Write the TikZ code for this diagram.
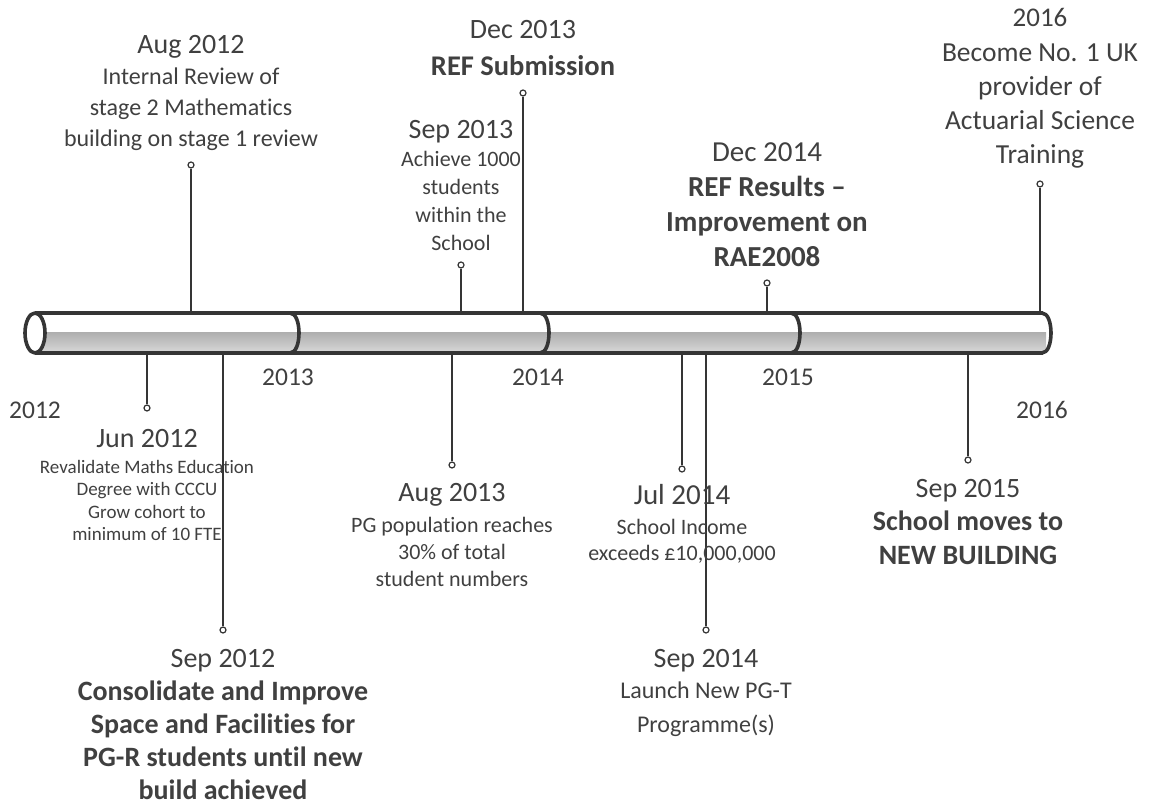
\documentclass[tikz,border=0pt]{standalone}
\usepackage{fontspec}
\setmainfont{Carlito}[Ligatures={TeX,NoCommon}]
\usepackage{xcolor}
\usepackage{tikz}
\usetikzlibrary{positioning}

\definecolor{inkgray}{HTML}{404040}
\definecolor{linegray}{HTML}{353535}
\newcommand\fsz[2]{\fontsize{#1}{#2}\selectfont}

\begin{document}
\begin{tikzpicture}[
    x=1pt, y=-1pt,
    date/.style={inner sep=0, text=inkgray, anchor=base, font=\fsz{28}{33}},
    desc/.style={inner sep=0, text=inkgray, anchor=north, align=center},
    year/.style={inner sep=0, text=inkgray, anchor=base, font=\fsz{25.5}{30}},
    pin/.style={circle, draw=linegray, fill=white, line width=1.2pt, inner sep=0, minimum size=6pt},
    stem/.style={draw=linegray, line width=1.8pt},
    tube/.style={draw=linegray, line width=3.6pt, line join=round}
]
\useasboundingbox (0,0) rectangle (1152,810);

% points on the tube where the stems start
\coordinate (jun12b) at (147,355);
\coordinate (aug12b) at (191,311);
\coordinate (sep12b) at (223,355);
\coordinate (aug13b) at (452,355);
\coordinate (sep13b) at (461,311);
\coordinate (dec13b) at (523,311);
\coordinate (jul14b) at (682,355);
\coordinate (sep14b) at (706,355);
\coordinate (dec14b) at (767,311);
\coordinate (sep15b) at (968,355);
\coordinate (y16b) at (1040,311);

% pins
\node[pin] (jun12p) at (147,408) {};
\node[pin] (aug12p) at (191,165) {};
\node[pin] (sep12p) at (223,630) {};
\node[pin] (aug13p) at (452,465) {};
\node[pin] (sep13p) at (461,265) {};
\node[pin] (dec13p) at (523,93) {};
\node[pin] (jul14p) at (682,469) {};
\node[pin] (sep14p) at (706,630) {};
\node[pin] (dec14p) at (767,283) {};
\node[pin] (sep15p) at (968,460) {};
\node[pin] (y16p) at (1040,184) {};

\foreach \ev in {jun12,aug12,sep12,aug13,sep13,dec13,jul14,sep14,dec14,sep15,y16}
    \draw[stem] (\ev b) -- (\ev p);

% the tube
\fill[white] (35,313) rectangle (1046,333);
\shade[top color=gray!62, bottom color=gray!30] (35,333) rectangle (1046,353);
\draw[tube] (35,313) -- (1043,313);
\draw[tube] (35,353) -- (1043,353);
\draw[tube, fill=white] (35,333) ellipse [x radius=10, y radius=20];
\foreach \xb in {298,548,799,1050}
    \draw[tube] (\xb-8,313) .. controls (\xb+4,313) and (\xb+4,353) .. (\xb-8,353);

% years
\node[year] (y2012) at (35,418) {2012};
\node[year] (y2013) at (288,386) {2013};
\node[year] (y2014) at (538,386) {2014};
\node[year] (y2015) at (788,386) {2015};
\node[year] (y2016) at (1042,418) {2016};

% above the tube
\node[date] (aug12d) at (191,54) {Aug 2012};
\node[desc, font=\fsz{24}{31}] (aug12t) at (191,68) {Internal Review of\\stage 2 Mathematics\\building on stage 1 review};

\node[date] (sep13d) at (461,139) {Sep 2013};
\node[desc, font=\fsz{22}{28}] (sep13t) at (461,151) {Achieve 1000\\students\\within the\\School};

\node[date] (dec13d) at (523,39) {Dec 2013};
\node[date, font=\bfseries\fsz{28.5}{33}] (dec13t) at (523,76) {REF Submission};

\node[date, font=\fsz{29}{34}] (dec14d) at (767,162) {Dec 2014};
\node[desc, font=\bfseries\fsz{29}{35}] (dec14t) at (767,176) {REF Results --\\Improvement on\\RAE2008};

\node[date, font=\fsz{27}{32}] (y16d) at (1040,27) {2016};
\node[desc, font=\fsz{27.5}{34}] (y16t) at (1040,44) {Become No. 1 UK\\provider of\\Actuarial Science\\Training};

% below the tube
\node[date] (jun12d) at (147,447) {Jun 2012};
\node[desc, font=\fsz{19}{22.5}] (jun12t) at (147,460) {Revalidate Maths Education\\Degree with CCCU\\Grow cohort to\\minimum of 10 FTE};

\node[date] (sep12d) at (223,667) {Sep 2012};
\node[desc, font=\bfseries\fsz{28}{33}] (sep12t) at (223,681) {Consolidate and Improve\\Space and Facilities for\\PG-R students until new\\build achieved};

\node[date] (aug13d) at (452,501) {Aug 2013};
\node[desc, font=\fsz{22}{27}] (aug13t) at (452,517) {PG population reaches\\30\% of total\\student numbers};

\node[date, font=\fsz{29}{34}] (jul14d) at (682,504) {Jul 2014};
\node[desc, font=\fsz{22}{26}] (jul14t) at (682,519) {School Income\\exceeds £10,000,000};

\node[date] (sep14d) at (706,667) {Sep 2014};
\node[desc, font=\fsz{24}{34}] (sep14t) at (706,682) {Launch New PG-T\\Programme(s)};

\node[date] (sep15d) at (968,497) {Sep 2015};
\node[desc, font=\bfseries\fsz{28}{34}] (sep15t) at (968,511) {School moves to\\NEW BUILDING};

\end{tikzpicture}
\end{document}
